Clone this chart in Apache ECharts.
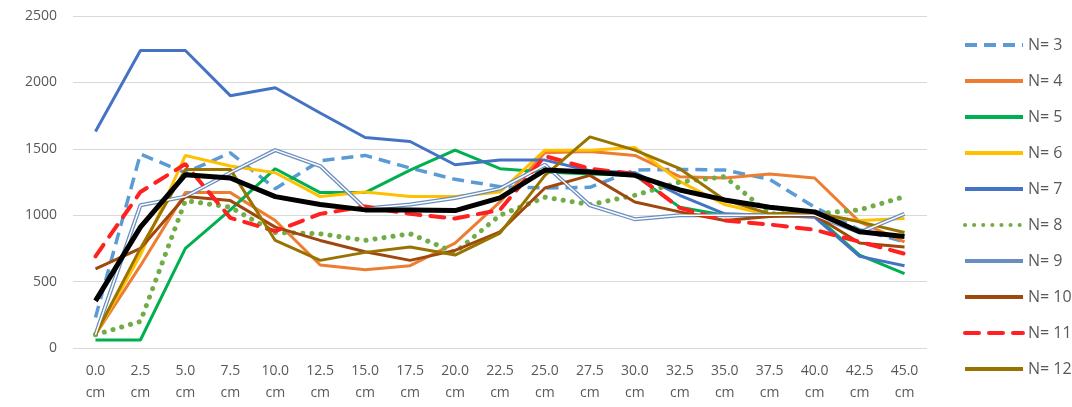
<!DOCTYPE html>
<html>
<head>
<meta charset="utf-8">
<script src="https://cdn.jsdelivr.net/npm/echarts@6/dist/echarts.min.js"></script>
<style>
  html, body { margin: 0; padding: 0; background: #fff; }
  #depthChart { width: 1072px; height: 407px; }
</style>
</head>
<body>
<div id="depthChart"></div>
<script>
// depth positions along the bed
const depths = ['0.0', '2.5', '5.0', '7.5', '10.0', '12.5', '15.0', '17.5', '20.0', '22.5',
  '25.0', '27.5', '30.0', '32.5', '35.0', '37.5', '40.0', '42.5', '45.0'];

const n3 = [230, 1460, 1320, 1470, 1200, 1410, 1450, 1355, 1270, 1215, 1205, 1210, 1340, 1345, 1340, 1270, 1060, 890, 800];
const n4 = [100, 620, 1170, 1170, 960, 625, 590, 620, 790, 1100, 1470, 1480, 1450, 1290, 1280, 1310, 1280, 950, 800];
const n5 = [60, 60, 750, 1040, 1350, 1170, 1170, 1340, 1490, 1350, 1325, 1310, 1300, 1060, 1000, 1000, 1000, 700, 560];
const n6 = [100, 700, 1450, 1370, 1320, 1140, 1175, 1140, 1140, 1175, 1490, 1490, 1510, 1255, 1080, 1000, 1000, 960, 975];
const n7 = [1630, 2240, 2240, 1900, 1960, 1770, 1585, 1555, 1380, 1415, 1415, 1335, 1320, 1150, 1010, 1000, 985, 690, 620];
const n8 = [100, 200, 1110, 1060, 870, 860, 810, 860, 720, 1000, 1135, 1080, 1150, 1250, 1290, 1010, 1010, 1040, 1140];
const n9 = [100, 1075, 1140, 1320, 1490, 1370, 1050, 1080, 1130, 1200, 1380, 1075, 970, 1000, 1000, 1000, 1000, 870, 1010];
const n10 = [595, 750, 1140, 1110, 910, 810, 725, 660, 735, 875, 1205, 1300, 1100, 1025, 960, 990, 1000, 790, 760];
const n11 = [690, 1175, 1385, 980, 880, 1010, 1065, 1010, 975, 1040, 1445, 1350, 1310, 1055, 960, 930, 890, 800, 710];
const n12 = [100, 750, 1345, 1345, 810, 660, 720, 760, 700, 865, 1300, 1590, 1490, 1350, 1115, 1010, 1020, 950, 870];
const avg = [355, 910, 1305, 1280, 1140, 1080, 1040, 1040, 1035, 1130, 1340, 1325, 1300, 1190, 1115, 1060, 1025, 875, 840];

const yTicks = [0, 500, 1000, 1500, 2000, 2500];

const chart = echarts.init(document.getElementById('depthChart'));

function lineSeries(name, data, color, width, type, extra) {
  return Object.assign({
    name: name,
    type: 'line',
    data: data,
    symbol: 'none',
    lineStyle: { color: color, width: width, type: type || 'solid' },
    itemStyle: { color: color },
    z: 2
  }, extra || {});
}

chart.setOption({
  animation: false,
  textStyle: { fontFamily: '"Open Sans", "Noto Sans", sans-serif' },
  grid: { left: 73, right: 145, top: 16, bottom: 59 },
  legend: {
    orient: 'vertical',
    left: 958,
    top: 29,
    itemWidth: 58,
    itemHeight: 14,
    itemGap: 14,
    itemStyle: { opacity: 0 },
    lineStyle: { width: 4 },
    textStyle: { color: '#595959', fontSize: 16, lineHeight: 22 },
    data: ['N= 3', 'N= 4', 'N= 5', 'N= 6', 'N= 7', 'N= 8', 'N= 9', 'N= 10', 'N= 11', 'N= 12']
  },
  xAxis: {
    type: 'category',
    data: depths,
    boundaryGap: true,
    axisLine: { show: false },
    axisTick: { show: false },
    axisLabel: {
      color: '#595959',
      fontSize: 14,
      lineHeight: 22,
      margin: 12,
      interval: 0,
      formatter: function (v) { return v + '\ncm'; }
    }
  },
  yAxis: {
    type: 'value',
    min: yTicks[0],
    max: yTicks[yTicks.length - 1],
    interval: 500,
    axisLine: { show: false },
    axisTick: { show: false },
    axisLabel: {
      color: '#595959',
      fontSize: 14,
      margin: 16,
      formatter: function (v) { return String(v); }
    },
    splitLine: { lineStyle: { color: '#d9d9d9', width: 1 } }
  },
  series: [
    lineSeries('N= 3', n3, '#5B9BD5', 3.5, [12, 7]),
    lineSeries('N= 4', n4, '#ED7D31', 3),
    lineSeries('N= 5', n5, '#00B050', 3),
    lineSeries('N= 6', n6, '#FFC000', 3),
    lineSeries('N= 7', n7, '#4472C4', 3),
    lineSeries('N= 8', n8, '#70AD47', 5, [0.1, 9], { lineStyle: { color: '#70AD47', width: 5, type: [0.1, 9], cap: 'round' } }),
    lineSeries('N= 9', n9, '#6A8EBF', 4),
    // white core of the double line
    lineSeries('N= 9 core', n9, '#ffffff', 1.5, 'solid', { legendHoverLink: false, z: 3 }),
    lineSeries('N= 10', n10, '#9E480E', 3),
    lineSeries('N= 11', n11, '#FF2020', 4, [14, 10], { lineStyle: { color: '#FF2020', width: 4, type: [14, 10], cap: 'round' } }),
    lineSeries('N= 12', n12, '#997300', 3),
    lineSeries('Avg', avg, '#000000', 5, 'solid', { z: 5 })
  ]
});

window.addEventListener('resize', function () {
  chart.resize();
});
</script>
</body>
</html>
